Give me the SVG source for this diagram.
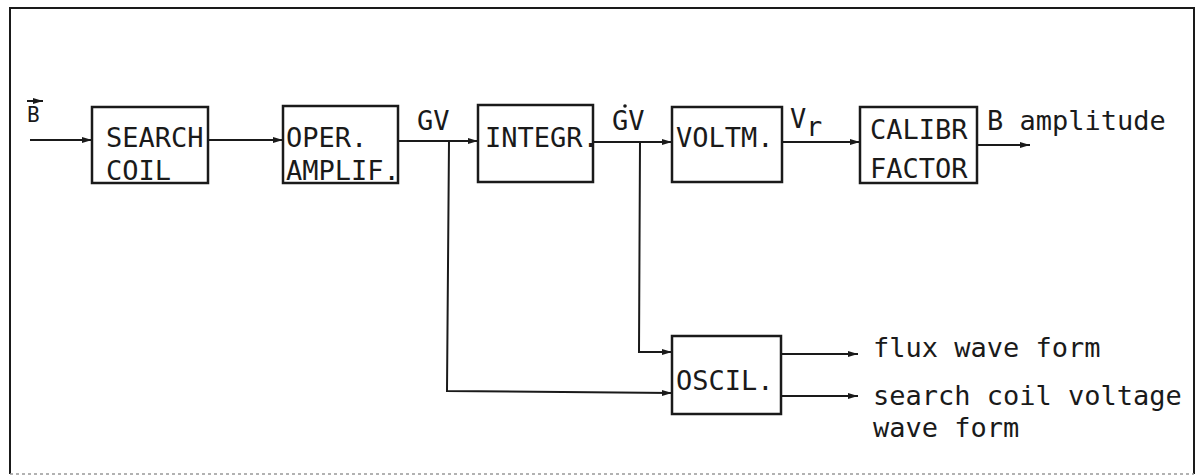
<svg xmlns="http://www.w3.org/2000/svg" width="1199" height="475" viewBox="0 0 1199 475">
<style>
.box{fill:none;stroke:#1a1a1a;stroke-width:2.5}
.ln{fill:none;stroke:#1a1a1a;stroke-width:2}
.t{font-family:"DejaVu Sans Mono","Liberation Mono",monospace;font-size:27px;fill:#1a1a1a}
.s{font-family:"DejaVu Sans Mono","Liberation Mono",monospace;font-size:21px;fill:#1a1a1a}
</style>
<defs>
<marker id="ah" markerWidth="10" markerHeight="8" refX="10" refY="4" orient="auto" markerUnits="userSpaceOnUse">
<path d="M0,1 L10,4 L0,7 Z" fill="#1a1a1a"/>
</marker>
</defs>
<rect width="1199" height="475" fill="#fff"/>
<g id="frame">
<path class="ln" d="M10,474 L10,8 L1194,8 L1194,474" stroke-width="2.5"/>
<path d="M10,474 L1194,474" stroke="#999" stroke-width="1.5" stroke-dasharray="3,3"/>
</g>
<g id="connectors">
<line class="ln" x1="30" y1="140" x2="92" y2="140" marker-end="url(#ah)"/>
<line class="ln" x1="208" y1="140" x2="283" y2="140" marker-end="url(#ah)"/>
<line class="ln" x1="398" y1="141" x2="478" y2="141" marker-end="url(#ah)"/>
<line class="ln" x1="593" y1="142" x2="672" y2="142" marker-end="url(#ah)"/>
<line class="ln" x1="782" y1="142" x2="860" y2="142" marker-end="url(#ah)"/>
<line class="ln" x1="977" y1="145" x2="1030" y2="145" marker-end="url(#ah)"/>
<polyline class="ln" points="449,141 447,391 672,393" marker-end="url(#ah)"/>
<polyline class="ln" points="640,142 639,352 672,352" marker-end="url(#ah)"/>
<line class="ln" x1="781" y1="354" x2="858" y2="354" marker-end="url(#ah)"/>
<line class="ln" x1="781" y1="396" x2="858" y2="396" marker-end="url(#ah)"/>
</g>
<g id="input">
<text class="s" x="27" y="122">B</text>
<line class="ln" x1="27" y1="101" x2="43" y2="101" marker-end="url(#ah)"/>
</g>
<g id="search-coil">
<rect class="box" x="92" y="107" width="116" height="76"/>
<text class="t" x="106" y="147">SEARCH</text>
<text class="t" x="106" y="180">COIL</text>
</g>
<g id="oper-amplif">
<rect class="box" x="283" y="106" width="115" height="77"/>
<text class="t" x="286" y="147">OPER.</text>
<text class="t" x="286" y="180">AMPLIF.</text>
</g>
<g id="label-gv">
<text class="t" x="417" y="130">GV</text>
</g>
<g id="integr">
<rect class="box" x="478" y="105" width="115" height="77"/>
<text class="t" x="485" y="147">INTEGR.</text>
</g>
<g id="label-gvdot">
<text class="t" x="612" y="130">GV</text>
<circle cx="625" cy="106" r="1.8" fill="#1a1a1a"/>
</g>
<g id="voltm">
<rect class="box" x="672" y="107" width="110" height="75"/>
<text class="t" x="676" y="147">VOLTM.</text>
</g>
<g id="label-vr">
<text class="t" x="790" y="128">V</text>
<text class="t" x="806" y="136">r</text>
</g>
<g id="calibr">
<rect class="box" x="860" y="107" width="117" height="76"/>
<text class="t" x="870" y="139">CALIBR</text>
<text class="t" x="870" y="178">FACTOR</text>
</g>
<g id="label-b-amplitude">
<text class="t" x="987" y="130">B amplitude</text>
</g>
<g id="oscil">
<rect class="box" x="672" y="336" width="109" height="78"/>
<text class="t" x="676" y="390">OSCIL.</text>
</g>
<g id="label-outputs">
<text class="t" x="873" y="357">flux wave form</text>
<text class="t" x="873" y="405">search coil voltage</text>
<text class="t" x="873" y="437">wave form</text>
</g>
</svg>
